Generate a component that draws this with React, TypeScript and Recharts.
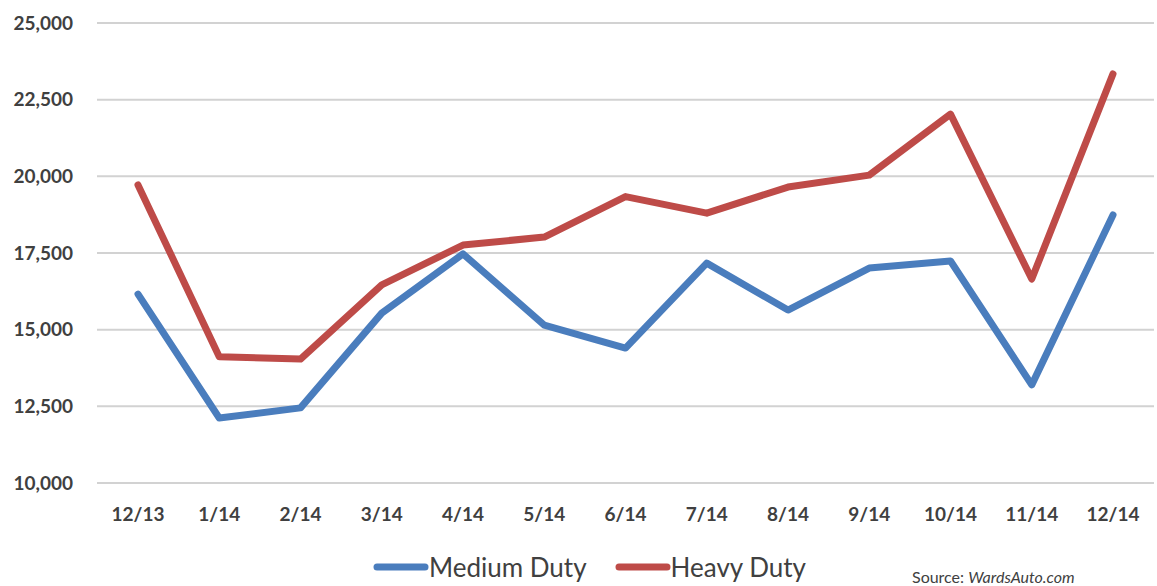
import { LineChart, Line, XAxis, YAxis, CartesianGrid } from 'recharts'

const MONTHS = ['12/13', '1/14', '2/14', '3/14', '4/14', '5/14', '6/14', '7/14', '8/14', '9/14', '10/14', '11/14', '12/14']
const MEDIUM_DUTY = [16160, 12120, 12450, 15540, 17470, 15150, 14400, 17170, 15640, 17010, 17240, 13200, 18740]
const HEAVY_DUTY = [19720, 14120, 14040, 16460, 17760, 18020, 19340, 18800, 19650, 20040, 22030, 16650, 23340]
const Y_TICKS = [10000, 12500, 15000, 17500, 20000, 22500, 25000]

const BLUE = '#4a7dbd'
const RED = '#be4b48'
const TEXT = '#404040'
const FONT = 'Lato, "Open Sans", sans-serif'

const SERIES = [
  { key: 'medium', name: 'Medium Duty', color: BLUE },
  { key: 'heavy', name: 'Heavy Duty', color: RED },
]

const data = MONTHS.map((m, i) => ({ month: m, medium: MEDIUM_DUTY[i], heavy: HEAVY_DUTY[i] }))

export default function App() {
  return (
    <div style={{ position: 'absolute', left: 0, top: 0, width: 1157, height: 586, background: '#fff', overflow: 'hidden' }}>
      <LineChart width={1157} height={586} data={data} margin={{ top: 23, right: 3, left: 0, bottom: 53 }}>
        <CartesianGrid vertical={false} stroke="#d2d2d2" strokeWidth={2} />
        <XAxis
          dataKey="month"
          padding={{ left: 41, right: 41 }}
          axisLine={{ stroke: '#d2d2d2', strokeWidth: 2 }}
          tickLine={false}
          tickSize={0}
          tickMargin={25}
          height={50}
          interval={0}
          tick={{ fontSize: 19, fill: TEXT, fontFamily: FONT, fontWeight: 'bold' }}
        />
        <YAxis
          domain={[10000, 25000]}
          ticks={Y_TICKS}
          axisLine={false}
          tickLine={false}
          tickSize={0}
          tickMargin={24}
          width={97}
          tickFormatter={v => Number(v).toLocaleString('en-US')}
          tick={{ fontSize: 19, fill: TEXT, fontFamily: FONT, fontWeight: 'bold' }}
        />
        {SERIES.map(s => (
          <Line
            key={s.key}
            type="linear"
            dataKey={s.key}
            name={s.name}
            stroke={s.color}
            strokeWidth={7}
            strokeLinecap="round"
            strokeLinejoin="round"
            dot={false}
            isAnimationActive={false}
          />
        ))}
      </LineChart>

      {/* legend */}
      <div style={{ position: 'absolute', left: 0, top: 551, width: 1157, paddingLeft: 22, boxSizing: 'border-box', display: 'flex', justifyContent: 'center', gap: 28, fontFamily: FONT, fontSize: 26, lineHeight: '32px', color: TEXT }}>
        {SERIES.map(s => (
          <div key={s.key} style={{ display: 'flex', alignItems: 'center' }}>
            <svg width={56} height={10}>
              <line x1={4} y1={5} x2={52} y2={5} stroke={s.color} strokeWidth={7} strokeLinecap="round" />
            </svg>
            <span>{s.name}</span>
          </div>
        ))}
      </div>

      <div style={{ position: 'absolute', left: 912, top: 568, fontFamily: FONT, fontSize: 16, lineHeight: '17px', color: TEXT, whiteSpace: 'nowrap' }}>
        Source: <i>WardsAuto.com</i>
      </div>
    </div>
  )
}
